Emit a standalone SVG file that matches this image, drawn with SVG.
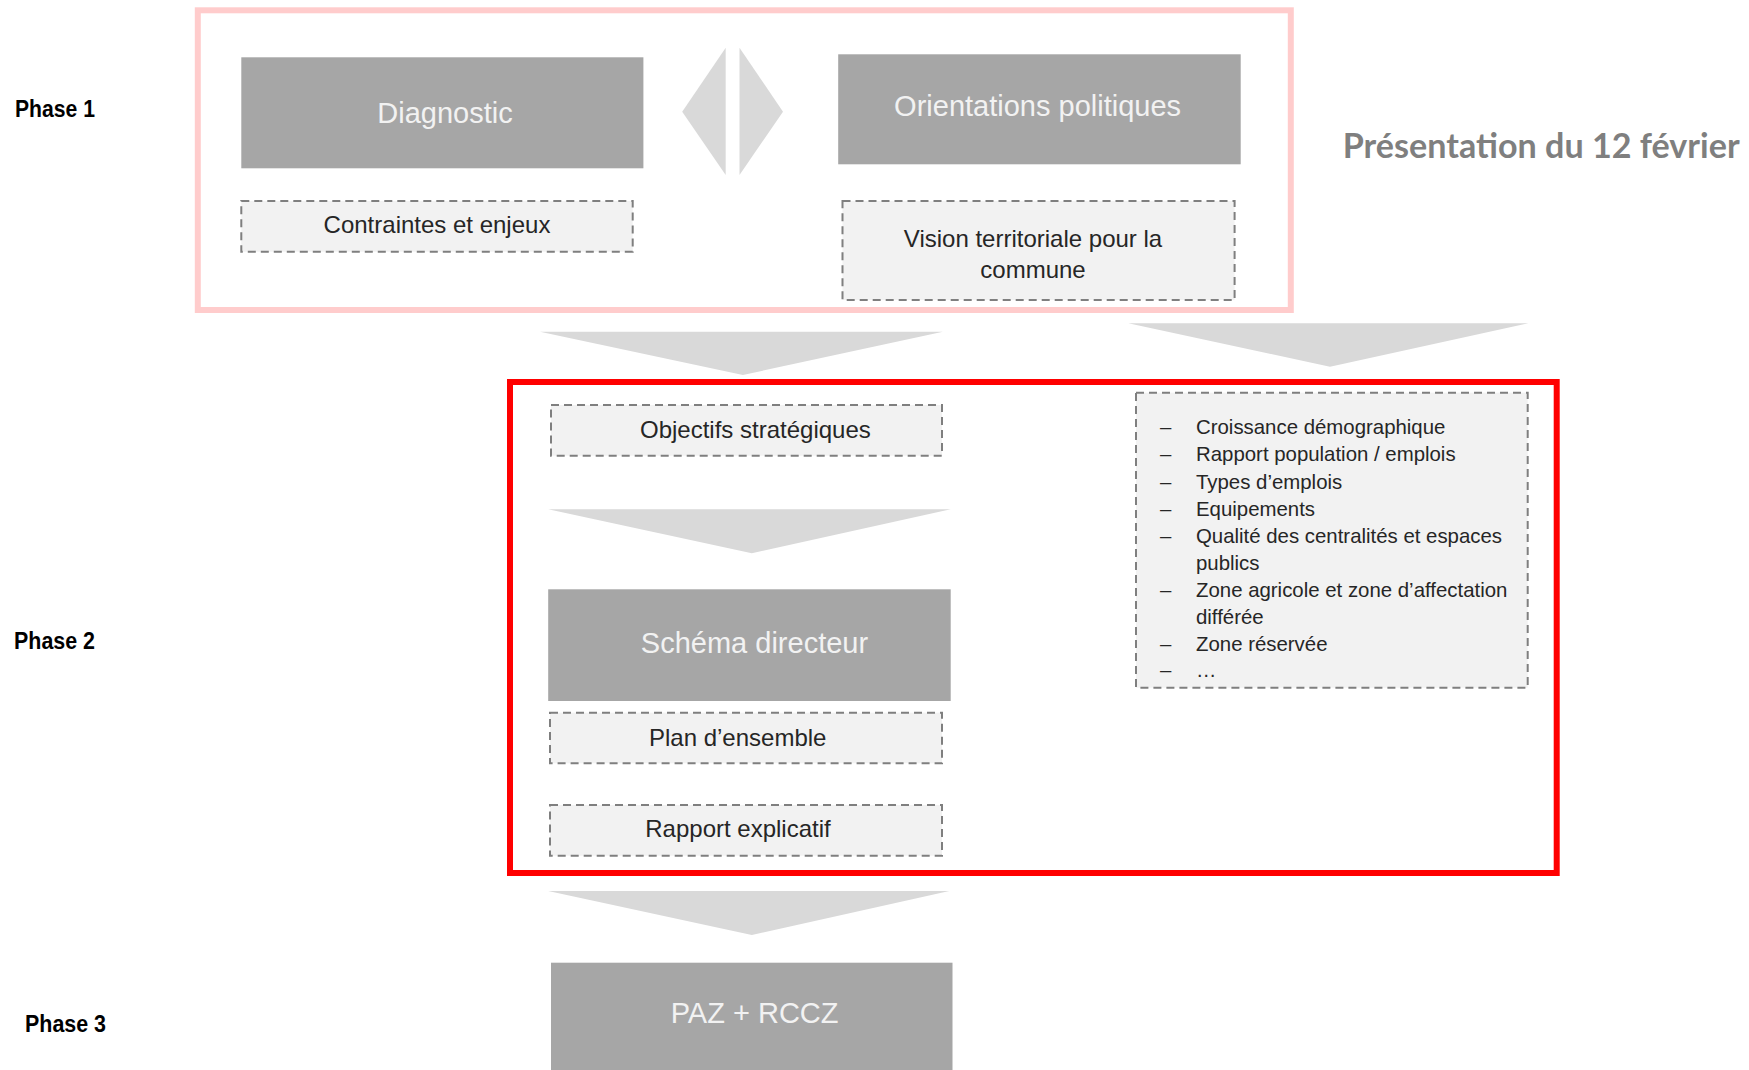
<svg xmlns="http://www.w3.org/2000/svg" width="1749" height="1070" viewBox="0 0 1749 1070">
<style>
.solid{fill:#a6a6a6;}
.solidtxt{font-family:"Liberation Sans",Arial,sans-serif;font-size:29px;fill:#f2f2f2;text-anchor:middle;}
.dash{fill:#f2f2f2;stroke:#7f7f7f;stroke-width:2;stroke-dasharray:8 5;}
.dashtxt{font-family:"Liberation Sans",Arial,sans-serif;font-size:24px;fill:#262626;text-anchor:middle;}
.listtxt{font-family:"Liberation Sans",Arial,sans-serif;font-size:20.4px;fill:#262626;}
.phase{font-family:"Liberation Sans Narrow","Liberation Sans",Arial,sans-serif;font-weight:bold;font-size:24px;fill:#000;}
.arrow{fill:#d9d9d9;}
</style>
<rect width="1749" height="1070" fill="#ffffff"/>

<g id="phase-labels">
  <text class="phase" x="15" y="117" textLength="80" lengthAdjust="spacingAndGlyphs">Phase 1</text>
  <text class="phase" x="14" y="649" textLength="81" lengthAdjust="spacingAndGlyphs">Phase 2</text>
  <text class="phase" x="25" y="1032" textLength="81" lengthAdjust="spacingAndGlyphs">Phase 3</text>
</g>

<g id="phase1-frame">
  <rect x="197.8" y="10.3" width="1093" height="299.7" fill="none" stroke="#ffcccc" stroke-width="6"/>
</g>

<g id="presentation-label">
  <text x="1342.7" y="158" font-family="Lato,'Open Sans',sans-serif" font-weight="bold" font-size="34" fill="#7f7f7f" textLength="397" lengthAdjust="spacingAndGlyphs">Présentation du 12 février</text>
</g>

<g id="phase2-frame">
  <rect x="510" y="382" width="1046.7" height="491" fill="none" stroke="#ff0000" stroke-width="6"/>
</g>

<g id="connectors">
  <polygon class="arrow" points="682.2,111.7 725.7,47.7 725.7,175"/>
  <polygon class="arrow" points="739.5,47.7 783,111.7 739.5,175"/>
  <polygon class="arrow" points="540,331.7 942.9,331.7 742.9,375"/>
  <polygon class="arrow" points="1128.3,323.3 1528.3,323.3 1330,366.7"/>
  <polygon class="arrow" points="548.2,509.3 950.7,509.3 751.8,553.3"/>
  <polygon class="arrow" points="548.2,891 949.3,891 751.8,935"/>
</g>

<g id="diagnostic">
  <rect class="solid" x="241.3" y="57.3" width="402.1" height="111"/>
  <text class="solidtxt" x="445" y="122.7">Diagnostic</text>
</g>

<g id="contraintes">
  <rect class="dash" x="241.3" y="201" width="391.4" height="50.7"/>
  <text class="dashtxt" x="437" y="233.3">Contraintes et enjeux</text>
</g>

<g id="orientations">
  <rect class="solid" x="838.2" y="54.3" width="402.5" height="110"/>
  <text class="solidtxt" x="1037.6" y="116">Orientations politiques</text>
</g>

<g id="vision">
  <rect class="dash" x="842.5" y="201" width="392.1" height="99"/>
  <text class="dashtxt" x="1033" y="246.7">Vision territoriale pour la</text>
  <text class="dashtxt" x="1033" y="277.7">commune</text>
</g>

<g id="objectifs">
  <rect class="dash" x="551" y="405" width="391" height="50.7"/>
  <text class="dashtxt" x="755.4" y="437.7">Objectifs stratégiques</text>
</g>

<g id="liste">
  <rect class="dash" x="1136" y="392.7" width="391.7" height="295"/>
  <g class="listtxt">
    <text x="1160" y="434">–</text><text x="1196" y="434">Croissance démographique</text>
    <text x="1160" y="461.3">–</text><text x="1196" y="461.3">Rapport population / emplois</text>
    <text x="1160" y="488.5">–</text><text x="1196" y="488.5">Types d’emplois</text>
    <text x="1160" y="515.7">–</text><text x="1196" y="515.7">Equipements</text>
    <text x="1160" y="542.8">–</text><text x="1196" y="542.8">Qualité des centralités et espaces</text>
    <text x="1196" y="569.8">publics</text>
    <text x="1160" y="596.8">–</text><text x="1196" y="596.8">Zone agricole et zone d’affectation</text>
    <text x="1196" y="623.5">différée</text>
    <text x="1160" y="650.7">–</text><text x="1196" y="650.7">Zone réservée</text>
    <text x="1160" y="677">–</text><text x="1196" y="677">…</text>
  </g>
</g>

<g id="schema">
  <rect class="solid" x="548.2" y="589.3" width="402.5" height="111.7"/>
  <text class="solidtxt" x="754.5" y="653.3">Schéma directeur</text>
</g>

<g id="plan">
  <rect class="dash" x="550" y="712.7" width="392" height="50.6"/>
  <text class="dashtxt" x="737.7" y="745.7">Plan d’ensemble</text>
</g>

<g id="rapport">
  <rect class="dash" x="550" y="805" width="392" height="50.7"/>
  <text class="dashtxt" x="738" y="836.7">Rapport explicatif</text>
</g>

<g id="paz">
  <rect class="solid" x="551" y="962.7" width="401.5" height="120"/>
  <text class="solidtxt" x="754.6" y="1023.3">PAZ + RCCZ</text>
</g>
</svg>
